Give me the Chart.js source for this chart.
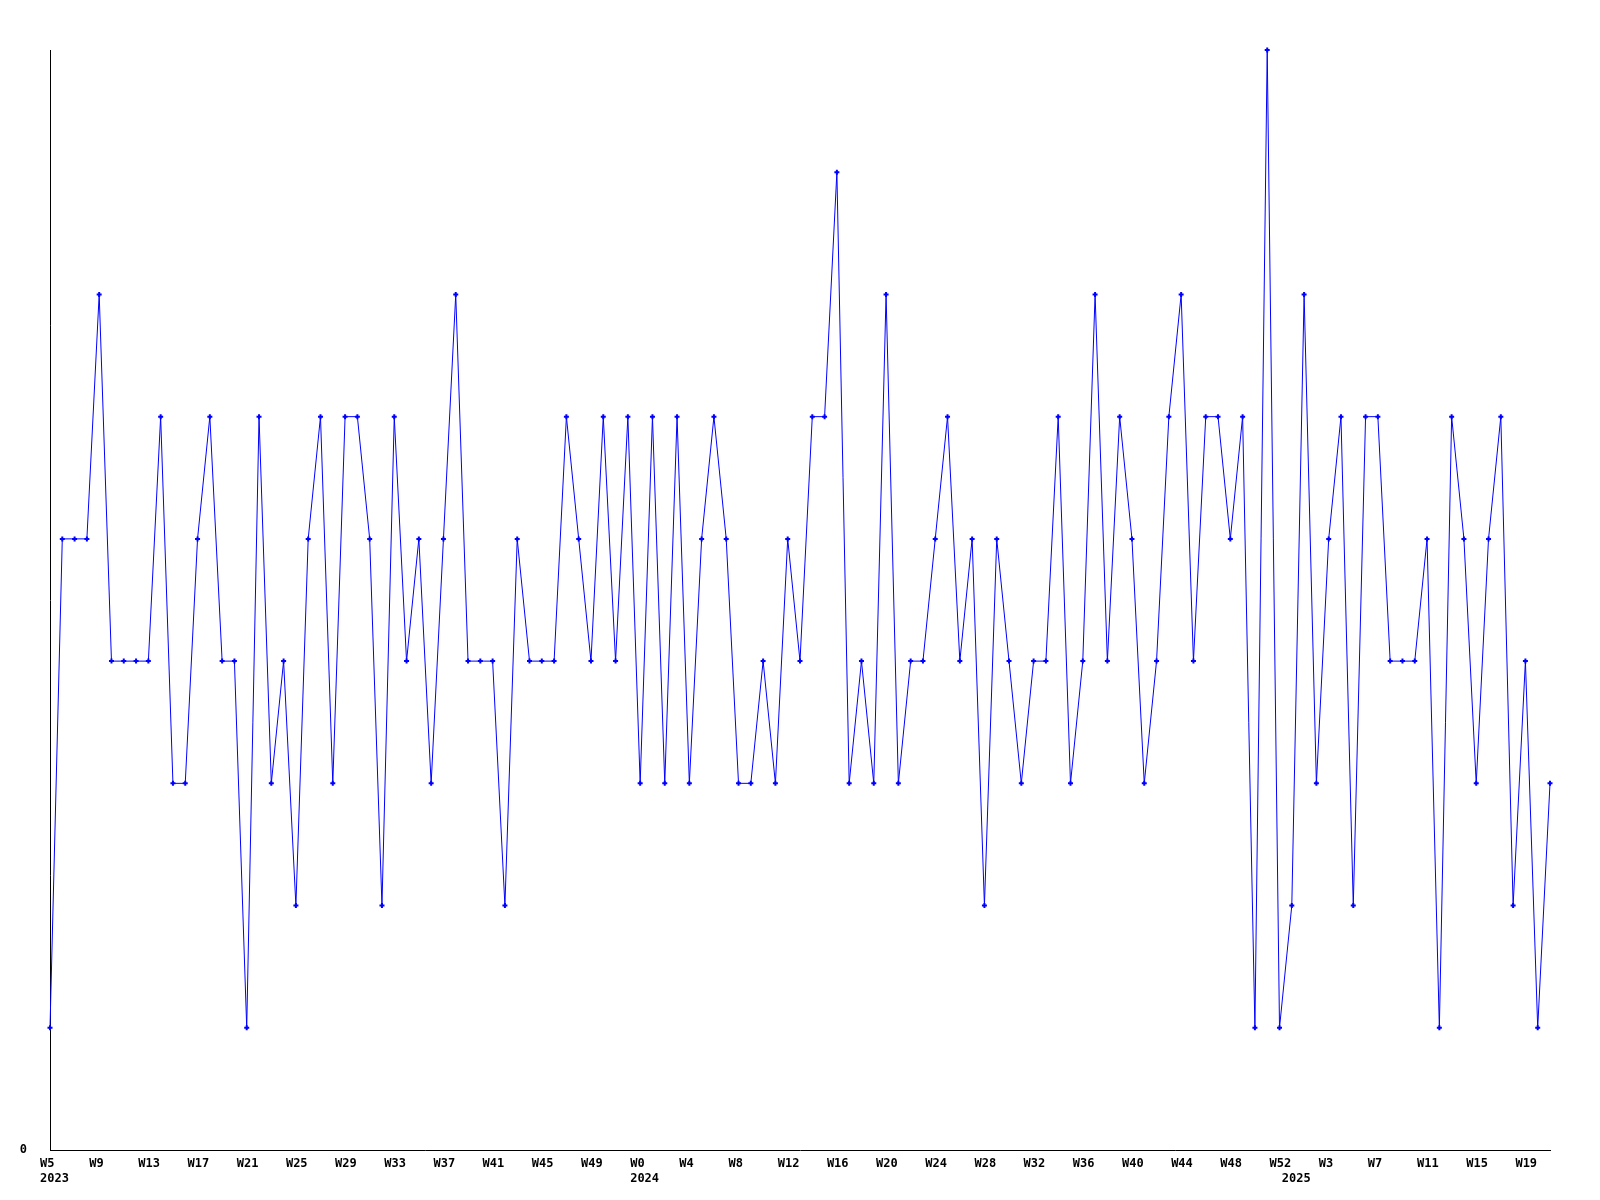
<!DOCTYPE html>
<html>
<head>
<meta charset="utf-8">
<script src="https://cdn.jsdelivr.net/npm/chart.js@4/dist/chart.umd.min.js"></script>
<style>
    html, body { margin: 0; padding: 0; background: #fff; }
    canvas { display: block; }
</style>
</head>
<body>
<canvas id="chart" width="1600" height="1200"></canvas>
<script>
// weekly periods shown on the x axis
const years = [2023, 2024, 2025];
const firstWeeks = [5, 0, 0];
const lastWeeks = [52, 52, 21];

// one value per week
const counts = [
    1, 5, 5, 5, 7, 4, 4, 4, 4, 6, 3, 3, 5, 6, 4, 4, 1, 6, 3, 4,
    2, 5, 6, 3, 6, 6, 5, 2, 6, 4, 5, 3, 5, 7, 4, 4, 4, 2, 5, 4,
    4, 4, 6, 5, 4, 6, 4, 6, 3, 6, 3, 6, 3, 5, 6, 5, 3, 3, 4, 3,
    5, 4, 6, 6, 8, 3, 4, 3, 7, 3, 4, 4, 5, 6, 4, 5, 2, 5, 4, 3,
    4, 4, 6, 3, 4, 7, 4, 6, 5, 3, 4, 6, 7, 4, 6, 6, 5, 6, 1, 9,
    1, 2, 7, 3, 5, 6, 2, 6, 6, 4, 4, 4, 5, 1, 6, 5, 3, 5, 6, 2,
    4, 1, 3,
];

const yMin = 0;
const yMax = 9;
const labelEvery = 4;

const weekLabels = [];
const yearLabels = [];
years.forEach((year, y) => {
    for (let w = firstWeeks[y]; w <= lastWeeks[y]; w++) {
        weekLabels.push(`W${w}`);
        yearLabels.push(w === firstWeeks[y] ? String(year) : '');
    }
});

const tickFont = { family: '"DejaVu Sans Mono", "Liberation Mono", monospace', size: 12, weight: 'bold', lineHeight: 1.25 };

new Chart(document.getElementById('chart'), {
    type: 'line',
    data: {
        labels: weekLabels,
        datasets: [{
            data: counts,
            borderColor: '#0000ff',
            borderWidth: 1,
            tension: 0,
            fill: false,
            clip: false,
            pointStyle: 'cross',
            pointRadius: 2.5,
            pointBorderWidth: 2,
            pointBorderColor: '#0000ff',
            pointBackgroundColor: '#0000ff',
        }]
    },
    options: {
        responsive: false,
        animation: false,
        layout: { padding: { left: 0, right: 50, top: 50, bottom: 0 } },
        plugins: {
            legend: { display: false },
            tooltip: { enabled: false },
        },
        scales: {
            x: {
                grid: { display: false, drawTicks: false },
                border: { display: true, color: '#000', width: 1 },
                afterFit(scale) { scale.height = 50; },
                ticks: {
                    autoSkip: false,
                    maxRotation: 0,
                    minRotation: 0,
                    align: 'start',
                    labelOffset: -10,
                    padding: 6,
                    color: '#000',
                    font: tickFont,
                    callback(value, index) {
                        const week = index % labelEvery === 0 ? weekLabels[index] : '';
                        const year = yearLabels[index];
                        return year ? [week, year] : week;
                    }
                }
            },
            y: {
                min: yMin,
                max: yMax,
                grid: { display: false, drawTicks: false },
                border: { display: true, color: '#000', width: 1 },
                afterFit(scale) { scale.width = 50; },
                ticks: {
                    stepSize: 1,
                    padding: 23,
                    color: '#000',
                    font: tickFont,
                    callback: (value) => (value === 0 ? '0' : '')
                }
            }
        }
    }
});
</script>
</body>
</html>
